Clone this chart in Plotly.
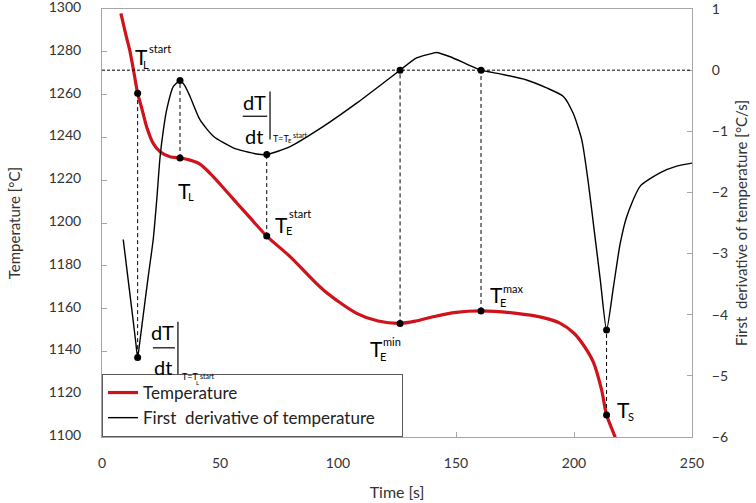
import plotly.graph_objects as go

# ---------------- data ----------------
time_temp = [8.0, 10.0, 11.9, 13.5, 15.1, 17.0, 18.9, 21.7, 24.6, 28.8, 33.05, 37.0,
             41.5, 45.8, 51.4, 57.0, 62.7, 69.8, 79.7, 93.8, 107.9, 117.0, 126.3,
             133.0, 140.4, 150.0, 160.6, 175.7, 186.0, 194.0, 200.0, 204.0, 208.2,
             211.7, 213.8, 217.4, 218.5]
temperature = [1298.0, 1288.5, 1280.0, 1270.5, 1260.7, 1253.0, 1245.0, 1237.2, 1233.3,
               1231.0, 1230.4, 1229.5, 1227.5, 1223.2, 1216.5, 1209.5, 1202.5, 1193.9,
               1184.3, 1168.7, 1157.8, 1154.2, 1153.1, 1154.2, 1156.2, 1158.2, 1158.9,
               1157.8, 1156.0, 1153.2, 1148.5, 1143.0, 1135.0, 1122.0, 1110.3, 1100.0,
               1095.0]

time_deriv = [9.0, 11.0, 13.0, 14.3, 15.1, 16.0, 17.5, 19.5, 21.7, 23.2, 24.6, 26.0,
              27.4, 30.2, 33.05, 35.0, 37.3, 41.5, 47.2, 55.6, 65.5, 69.8, 79.7, 93.8,
              107.9, 119.2, 126.3, 133.3, 140.4, 141.8, 147.5, 154.5, 160.6, 168.6,
              179.9, 188.4, 195.5, 199.7, 203.3, 206.1, 208.5, 211.2, 213.8, 216.7,
              219.5, 222.3, 228.0, 236.4, 243.5, 250.0]
derivative = [-2.77, -3.40, -4.03, -4.45, -4.70, -4.45, -4.00, -3.40, -2.77, -2.12,
              -1.42, -0.98, -0.65, -0.27, -0.17, -0.25, -0.43, -0.81, -1.08, -1.27,
              -1.37, -1.38, -1.25, -0.92, -0.54, -0.21, 0.00, 0.20, 0.28, 0.29, 0.22,
              0.10, 0.00, -0.06, -0.16, -0.29, -0.43, -0.71, -1.14, -1.85, -2.60,
              -3.45, -4.25, -3.55, -2.85, -2.40, -1.90, -1.68, -1.57, -1.52]

# characteristic points
point_time = [15.1, 33.05, 69.8, 126.3, 160.6, 213.8]
point_temp = [1260.7, 1230.4, 1193.9, 1153.1, 1158.9, 1110.3]
point_deriv = [-4.70, -0.17, -1.38, 0.0, 0.0, -4.25]

x_range = [0, 250]
y_range = [1100, 1300.02]
y2_range = [-6, 1.0007]
x_ticks = [0, 50, 100, 150, 200, 250]
y_ticks = [1100, 1120, 1140, 1160, 1180, 1200, 1220, 1240, 1260, 1280, 1300]
y2_ticks = [-6, -5, -4, -3, -2, -1, 0, 1]

FONT = "Lato"
AXIS_GREY = "#a6a6a6"
TEXT = "#333333"


def deriv_to_temp(d):
    # map a right-axis value onto the left axis (both span the same pixels)
    return y_range[0] + (d - y2_range[0]) / (y2_range[1] - y2_range[0]) * (y_range[1] - y_range[0])


fig = go.Figure()

fig.add_trace(go.Scatter(
    x=time_temp, y=temperature, mode="lines", name="Temperature",
    line=dict(color="#d0121b", width=3.2, shape="spline", smoothing=0.8),
    yaxis="y"))
fig.add_trace(go.Scatter(
    x=time_deriv, y=derivative, mode="lines",
    name="First&nbsp; derivative of temperature&nbsp;&nbsp;&nbsp;&nbsp;&nbsp;",
    line=dict(color="black", width=1.4, shape="spline", smoothing=0.6),
    yaxis="y2"))

# dashed connectors
shapes = []
for t, T, d in zip(point_time, point_temp, point_deriv):
    shapes.append(dict(type="line", xref="x", yref="y", x0=t, x1=t, y0=T, y1=deriv_to_temp(d),
                       line=dict(color="black", width=1, dash="4px,3px"), layer="above"))
shapes.append(dict(type="line", xref="x", yref="y2", x0=x_range[0], x1=x_range[1], y0=0, y1=0,
                   line=dict(color="black", width=1, dash="3px,2px"), layer="above"))

# markers
fig.add_trace(go.Scatter(x=point_time, y=point_temp, mode="markers", yaxis="y",
                         marker=dict(color="black", size=7), showlegend=False, hoverinfo="skip"))
fig.add_trace(go.Scatter(x=point_time, y=point_deriv, mode="markers", yaxis="y2",
                         marker=dict(color="black", size=7), showlegend=False, hoverinfo="skip"))

annotations = []


def txt(x, y, yref, text, size, dx, dy, xanchor="center"):
    annotations.append(dict(x=x, y=y, xref="x", yref=yref, text=text, showarrow=False,
                            font=dict(family=FONT, size=size, color="black"),
                            xshift=dx, yshift=dy, xanchor=xanchor, yanchor="middle",
                            borderpad=0))


def big_label(i, sub, sup, t_off, sub_off, sup_off):
    x, y = point_time[i], point_temp[i]
    txt(x, y, "y", "T", 21, t_off[0], t_off[1])
    txt(x, y, "y", sub, 11, sub_off[0], sub_off[1])
    if sup:
        txt(x, y, "y", sup, 11, sup_off[0], sup_off[1], xanchor="left")


big_label(0, "L", "start", (3.8, 36.2), (8.8, 28.2), (10.5, 45))
big_label(1, "L", None, (4, -32.7), (10.5, -38.5), None)
big_label(2, "E", "start", (14.3, 12), (22, 5.5), (21, 23))
big_label(3, "E", "min", (-24, -25.2), (-17.5, -33.5), (-18.5, -18))
big_label(4, "E", "max", (15, 16.5), (22, 8.5), (21, 22.5))
big_label(5, "S", None, (17.3, 5.5), (24.5, -1.5), None)


def deriv_label(i, sub, c):
    # c: dict of pixel offsets relative to derivative point
    x, y = point_time[i], point_deriv[i]
    txt(x, y, "y2", "dT", 20, c["num"][0], c["num"][1])
    txt(x, y, "y2", "dt", 20, c["den"][0], c["den"][1])
    txt(x, y, "y2", "T=T", 9, c["tt"][0], c["tt"][1], xanchor="left")
    txt(x, y, "y2", sub, 6, c["sub"][0], c["sub"][1])
    txt(x, y, "y2", "start", 7, c["sup"][0], c["sup"][1], xanchor="left")
    shapes.append(dict(type="line", xref="x", yref="y2", xsizemode="pixel", ysizemode="pixel",
                       xanchor=x, yanchor=y, x0=c["bar"][0], x1=c["bar"][1],
                       y0=c["bar"][2], y1=c["bar"][2], line=dict(color="black", width=1.2)))
    shapes.append(dict(type="line", xref="x", yref="y2", xsizemode="pixel", ysizemode="pixel",
                       xanchor=x, yanchor=y, x0=c["vbar"][0], x1=c["vbar"][0],
                       y0=c["vbar"][1], y1=c["vbar"][2], line=dict(color="black", width=1.2)))


deriv_label(2, "E", dict(num=(-12.7, 52.5), den=(-12.7, 18.5), tt=(5, 16.5), sub=(23.5, 14),
                         sup=(25.5, 20), bar=(-24, 0.5, 38.3), vbar=(3.3, 63, 15)))
deriv_label(0, "L", dict(num=(25.3, 25.2), den=(25.3, -9.3), tt=(43, -19.3), sub=(59.5, -24.5),
                         sup=(61.5, -18.3), bar=(15.3, 37.3, 9.7), vbar=(40.3, 35.7, -22.3)))

axis_common = dict(showline=True, linecolor=AXIS_GREY, linewidth=1, ticks="inside",
                   ticklen=5, tickcolor=AXIS_GREY, showgrid=False, zeroline=False,
                   automargin=False, ticklabeloverflow="allow",
                   tickfont=dict(family=FONT, size=14, color=TEXT))

fig.update_layout(
    width=756, height=503,
    margin=dict(l=102, r=64, t=9, b=66),
    paper_bgcolor="white", plot_bgcolor="white",
    font=dict(family=FONT, color=TEXT),
    xaxis=dict(range=x_range, tickvals=x_ticks, mirror=True,
               title=dict(text="Time [s]", font=dict(family=FONT, size=16, color=TEXT), standoff=17),
               ticklabelstandoff=13, **axis_common),
    yaxis=dict(range=y_range, tickvals=y_ticks,
               title=dict(text="Temperature [°C]", font=dict(family=FONT, size=15, color=TEXT), standoff=24),
               ticklabelstandoff=17, ticklabelshift=-2, **axis_common),
    yaxis2=dict(range=y2_range, tickvals=y2_ticks, overlaying="y", side="right",
                title=dict(text="First&nbsp; derivative of temperature [°C/s]",
                           font=dict(family=FONT, size=15, color=TEXT), standoff=9),
                ticklabelstandoff=16, **axis_common),
    legend=dict(x=0, y=0, xanchor="left", yanchor="bottom", bgcolor="white",
                bordercolor="#595959", borderwidth=1, font=dict(family=FONT, size=17, color="#222222"),
                tracegroupgap=0, itemwidth=30),
    shapes=shapes,
    annotations=annotations,
    showlegend=True,
)

# remove the default 8px page margin so the figure sits at the window's corner
fig.write_html("out.html", config={"displayModeBar": False},
               post_script="document.body.style.margin='0px';")
